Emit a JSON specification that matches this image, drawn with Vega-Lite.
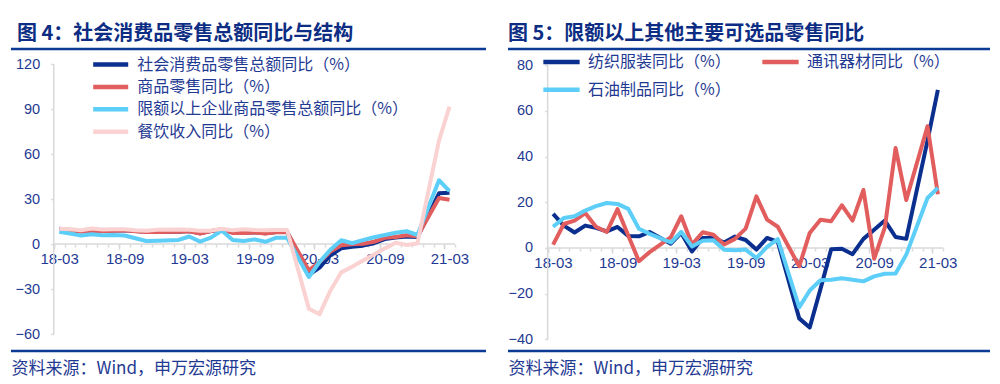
{
"$schema": "https://vega.github.io/schema/vega-lite/v6.json",
"background": "white",
"padding": {"left": 9, "top": 23, "right": 0, "bottom": 6},
"spacing": 18,
"config": {"view": {"stroke": null}, "font": "Noto Sans CJK SC"},
"resolve": {"scale": {"color": "independent", "x": "independent", "y": "independent"}, "legend": {"color": "independent"}},
"datasets": {
"retail": [
{"m":"2018-03","s":"社会消费品零售总额同比（%）","v":10.1},{"m":"2018-04","s":"社会消费品零售总额同比（%）","v":9.4},{"m":"2018-05","s":"社会消费品零售总额同比（%）","v":8.5},{"m":"2018-06","s":"社会消费品零售总额同比（%）","v":9.0},{"m":"2018-07","s":"社会消费品零售总额同比（%）","v":8.8},{"m":"2018-08","s":"社会消费品零售总额同比（%）","v":9.0},{"m":"2018-09","s":"社会消费品零售总额同比（%）","v":9.2},{"m":"2018-10","s":"社会消费品零售总额同比（%）","v":8.6},{"m":"2018-11","s":"社会消费品零售总额同比（%）","v":8.1},{"m":"2018-12","s":"社会消费品零售总额同比（%）","v":8.2},
{"m":"2019-02","s":"社会消费品零售总额同比（%）","v":8.2},{"m":"2019-03","s":"社会消费品零售总额同比（%）","v":8.7},{"m":"2019-04","s":"社会消费品零售总额同比（%）","v":7.2},{"m":"2019-05","s":"社会消费品零售总额同比（%）","v":8.6},{"m":"2019-06","s":"社会消费品零售总额同比（%）","v":9.8},{"m":"2019-07","s":"社会消费品零售总额同比（%）","v":7.6},{"m":"2019-08","s":"社会消费品零售总额同比（%）","v":7.5},{"m":"2019-09","s":"社会消费品零售总额同比（%）","v":7.8},{"m":"2019-10","s":"社会消费品零售总额同比（%）","v":7.2},{"m":"2019-11","s":"社会消费品零售总额同比（%）","v":8.0},{"m":"2019-12","s":"社会消费品零售总额同比（%）","v":8.0},
{"m":"2020-02","s":"社会消费品零售总额同比（%）","v":-20.5},{"m":"2020-03","s":"社会消费品零售总额同比（%）","v":-15.8},{"m":"2020-04","s":"社会消费品零售总额同比（%）","v":-7.5},{"m":"2020-05","s":"社会消费品零售总额同比（%）","v":-2.8},{"m":"2020-06","s":"社会消费品零售总额同比（%）","v":-1.8},{"m":"2020-07","s":"社会消费品零售总额同比（%）","v":-1.1},{"m":"2020-08","s":"社会消费品零售总额同比（%）","v":0.5},{"m":"2020-09","s":"社会消费品零售总额同比（%）","v":3.3},{"m":"2020-10","s":"社会消费品零售总额同比（%）","v":4.3},{"m":"2020-11","s":"社会消费品零售总额同比（%）","v":5.0},{"m":"2020-12","s":"社会消费品零售总额同比（%）","v":4.6},
{"m":"2021-02","s":"社会消费品零售总额同比（%）","v":33.8},{"m":"2021-03","s":"社会消费品零售总额同比（%）","v":34.2},
{"m":"2018-03","s":"商品零售同比（%）","v":10.0},{"m":"2018-04","s":"商品零售同比（%）","v":9.3},{"m":"2018-05","s":"商品零售同比（%）","v":8.4},{"m":"2018-06","s":"商品零售同比（%）","v":8.8},{"m":"2018-07","s":"商品零售同比（%）","v":8.7},{"m":"2018-08","s":"商品零售同比（%）","v":8.9},{"m":"2018-09","s":"商品零售同比（%）","v":9.1},{"m":"2018-10","s":"商品零售同比（%）","v":8.5},{"m":"2018-11","s":"商品零售同比（%）","v":8.0},{"m":"2018-12","s":"商品零售同比（%）","v":8.0},
{"m":"2019-02","s":"商品零售同比（%）","v":8.1},{"m":"2019-03","s":"商品零售同比（%）","v":8.5},{"m":"2019-04","s":"商品零售同比（%）","v":7.0},{"m":"2019-05","s":"商品零售同比（%）","v":8.7},{"m":"2019-06","s":"商品零售同比（%）","v":9.8},{"m":"2019-07","s":"商品零售同比（%）","v":7.4},{"m":"2019-08","s":"商品零售同比（%）","v":7.3},{"m":"2019-09","s":"商品零售同比（%）","v":7.7},{"m":"2019-10","s":"商品零售同比（%）","v":7.0},{"m":"2019-11","s":"商品零售同比（%）","v":7.8},{"m":"2019-12","s":"商品零售同比（%）","v":7.9},
{"m":"2020-02","s":"商品零售同比（%）","v":-17.6},{"m":"2020-03","s":"商品零售同比（%）","v":-12.0},{"m":"2020-04","s":"商品零售同比（%）","v":-5.1},{"m":"2020-05","s":"商品零售同比（%）","v":-0.8},{"m":"2020-06","s":"商品零售同比（%）","v":-0.2},{"m":"2020-07","s":"商品零售同比（%）","v":0.2},{"m":"2020-08","s":"商品零售同比（%）","v":1.5},{"m":"2020-09","s":"商品零售同比（%）","v":4.1},{"m":"2020-10","s":"商品零售同比（%）","v":4.7},{"m":"2020-11","s":"商品零售同比（%）","v":5.8},{"m":"2020-12","s":"商品零售同比（%）","v":5.2},
{"m":"2021-02","s":"商品零售同比（%）","v":30.7},{"m":"2021-03","s":"商品零售同比（%）","v":29.5},
{"m":"2018-03","s":"限额以上企业商品零售总额同比（%）","v":8.2},{"m":"2018-04","s":"限额以上企业商品零售总额同比（%）","v":7.0},{"m":"2018-05","s":"限额以上企业商品零售总额同比（%）","v":5.6},{"m":"2018-06","s":"限额以上企业商品零售总额同比（%）","v":6.5},{"m":"2018-07","s":"限额以上企业商品零售总额同比（%）","v":5.8},{"m":"2018-08","s":"限额以上企业商品零售总额同比（%）","v":6.0},{"m":"2018-09","s":"限额以上企业商品零售总额同比（%）","v":5.7},{"m":"2018-10","s":"限额以上企业商品零售总额同比（%）","v":3.8},{"m":"2018-11","s":"限额以上企业商品零售总额同比（%）","v":2.0},{"m":"2018-12","s":"限额以上企业商品零售总额同比（%）","v":2.2},
{"m":"2019-02","s":"限额以上企业商品零售总额同比（%）","v":2.7},{"m":"2019-03","s":"限额以上企业商品零售总额同比（%）","v":5.0},{"m":"2019-04","s":"限额以上企业商品零售总额同比（%）","v":1.6},{"m":"2019-05","s":"限额以上企业商品零售总额同比（%）","v":4.2},{"m":"2019-06","s":"限额以上企业商品零售总额同比（%）","v":9.0},{"m":"2019-07","s":"限额以上企业商品零售总额同比（%）","v":2.7},{"m":"2019-08","s":"限额以上企业商品零售总额同比（%）","v":2.0},{"m":"2019-09","s":"限额以上企业商品零售总额同比（%）","v":3.1},{"m":"2019-10","s":"限额以上企业商品零售总额同比（%）","v":1.5},{"m":"2019-11","s":"限额以上企业商品零售总额同比（%）","v":4.2},{"m":"2019-12","s":"限额以上企业商品零售总额同比（%）","v":4.2},
{"m":"2020-02","s":"限额以上企业商品零售总额同比（%）","v":-22.0},{"m":"2020-03","s":"限额以上企业商品零售总额同比（%）","v":-12.0},{"m":"2020-04","s":"限额以上企业商品零售总额同比（%）","v":-3.8},{"m":"2020-05","s":"限额以上企业商品零售总额同比（%）","v":2.5},{"m":"2020-06","s":"限额以上企业商品零售总额同比（%）","v":0.5},{"m":"2020-07","s":"限额以上企业商品零售总额同比（%）","v":2.6},{"m":"2020-08","s":"限额以上企业商品零售总额同比（%）","v":4.5},{"m":"2020-09","s":"限额以上企业商品零售总额同比（%）","v":6.0},{"m":"2020-10","s":"限额以上企业商品零售总额同比（%）","v":7.5},{"m":"2020-11","s":"限额以上企业商品零售总额同比（%）","v":8.5},{"m":"2020-12","s":"限额以上企业商品零售总额同比（%）","v":6.0},
{"m":"2021-02","s":"限额以上企业商品零售总额同比（%）","v":42.5},{"m":"2021-03","s":"限额以上企业商品零售总额同比（%）","v":35.2},
{"m":"2018-03","s":"餐饮收入同比（%）","v":10.1},{"m":"2018-04","s":"餐饮收入同比（%）","v":9.9},{"m":"2018-05","s":"餐饮收入同比（%）","v":9.2},{"m":"2018-06","s":"餐饮收入同比（%）","v":10.3},{"m":"2018-07","s":"餐饮收入同比（%）","v":9.6},{"m":"2018-08","s":"餐饮收入同比（%）","v":9.9},{"m":"2018-09","s":"餐饮收入同比（%）","v":9.8},{"m":"2018-10","s":"餐饮收入同比（%）","v":9.2},{"m":"2018-11","s":"餐饮收入同比（%）","v":8.9},{"m":"2018-12","s":"餐饮收入同比（%）","v":9.5},
{"m":"2019-02","s":"餐饮收入同比（%）","v":9.7},{"m":"2019-03","s":"餐饮收入同比（%）","v":9.5},{"m":"2019-04","s":"餐饮收入同比（%）","v":8.9},{"m":"2019-05","s":"餐饮收入同比（%）","v":8.9},{"m":"2019-06","s":"餐饮收入同比（%）","v":10.2},{"m":"2019-07","s":"餐饮收入同比（%）","v":9.1},{"m":"2019-08","s":"餐饮收入同比（%）","v":9.8},{"m":"2019-09","s":"餐饮收入同比（%）","v":9.3},{"m":"2019-10","s":"餐饮收入同比（%）","v":9.1},{"m":"2019-11","s":"餐饮收入同比（%）","v":9.4},{"m":"2019-12","s":"餐饮收入同比（%）","v":9.3},
{"m":"2020-02","s":"餐饮收入同比（%）","v":-43.1},{"m":"2020-03","s":"餐饮收入同比（%）","v":-46.8},{"m":"2020-04","s":"餐饮收入同比（%）","v":-31.1},{"m":"2020-05","s":"餐饮收入同比（%）","v":-18.9},{"m":"2020-06","s":"餐饮收入同比（%）","v":-15.2},{"m":"2020-07","s":"餐饮收入同比（%）","v":-11.0},{"m":"2020-08","s":"餐饮收入同比（%）","v":-7.0},{"m":"2020-09","s":"餐饮收入同比（%）","v":-2.9},{"m":"2020-10","s":"餐饮收入同比（%）","v":0.8},{"m":"2020-11","s":"餐饮收入同比（%）","v":-0.6},{"m":"2020-12","s":"餐饮收入同比（%）","v":0.4},
{"m":"2021-02","s":"餐饮收入同比（%）","v":68.9},{"m":"2021-03","s":"餐饮收入同比（%）","v":91.6}
],
"optional": [
{"m":"2018-03","s":"纺织服装同比（%）","v":14.9},{"m":"2018-04","s":"纺织服装同比（%）","v":9.8},{"m":"2018-05","s":"纺织服装同比（%）","v":6.8},{"m":"2018-06","s":"纺织服装同比（%）","v":9.8},{"m":"2018-07","s":"纺织服装同比（%）","v":8.8},{"m":"2018-08","s":"纺织服装同比（%）","v":7.3},{"m":"2018-09","s":"纺织服装同比（%）","v":9.2},{"m":"2018-10","s":"纺织服装同比（%）","v":5.3},{"m":"2018-11","s":"纺织服装同比（%）","v":5.1},{"m":"2018-12","s":"纺织服装同比（%）","v":7.0},
{"m":"2019-02","s":"纺织服装同比（%）","v":1.9},{"m":"2019-03","s":"纺织服装同比（%）","v":6.6},{"m":"2019-04","s":"纺织服装同比（%）","v":-1.5},{"m":"2019-05","s":"纺织服装同比（%）","v":4.4},{"m":"2019-06","s":"纺织服装同比（%）","v":4.4},{"m":"2019-07","s":"纺织服装同比（%）","v":2.4},{"m":"2019-08","s":"纺织服装同比（%）","v":5.0},{"m":"2019-09","s":"纺织服装同比（%）","v":3.5},{"m":"2019-10","s":"纺织服装同比（%）","v":-0.7},{"m":"2019-11","s":"纺织服装同比（%）","v":4.4},{"m":"2019-12","s":"纺织服装同比（%）","v":2.7},
{"m":"2020-02","s":"纺织服装同比（%）","v":-30.8},{"m":"2020-03","s":"纺织服装同比（%）","v":-34.8},{"m":"2020-04","s":"纺织服装同比（%）","v":-18.0},{"m":"2020-05","s":"纺织服装同比（%）","v":-0.6},{"m":"2020-06","s":"纺织服装同比（%）","v":-0.3},{"m":"2020-07","s":"纺织服装同比（%）","v":-2.7},{"m":"2020-08","s":"纺织服装同比（%）","v":4.0},{"m":"2020-09","s":"纺织服装同比（%）","v":8.0},{"m":"2020-10","s":"纺织服装同比（%）","v":12.0},{"m":"2020-11","s":"纺织服装同比（%）","v":4.8},{"m":"2020-12","s":"纺织服装同比（%）","v":4.0},
{"m":"2021-02","s":"纺织服装同比（%）","v":47.0},{"m":"2021-03","s":"纺织服装同比（%）","v":69.2},
{"m":"2018-03","s":"通讯器材同比（%）","v":1.5},{"m":"2018-04","s":"通讯器材同比（%）","v":10.5},{"m":"2018-05","s":"通讯器材同比（%）","v":12.0},{"m":"2018-06","s":"通讯器材同比（%）","v":15.3},{"m":"2018-07","s":"通讯器材同比（%）","v":9.3},{"m":"2018-08","s":"通讯器材同比（%）","v":7.0},{"m":"2018-09","s":"通讯器材同比（%）","v":17.0},{"m":"2018-10","s":"通讯器材同比（%）","v":5.5},{"m":"2018-11","s":"通讯器材同比（%）","v":-5.8},{"m":"2018-12","s":"通讯器材同比（%）","v":-1.8},
{"m":"2019-02","s":"通讯器材同比（%）","v":4.8},{"m":"2019-03","s":"通讯器材同比（%）","v":13.9},{"m":"2019-04","s":"通讯器材同比（%）","v":1.5},{"m":"2019-05","s":"通讯器材同比（%）","v":6.9},{"m":"2019-06","s":"通讯器材同比（%）","v":5.8},{"m":"2019-07","s":"通讯器材同比（%）","v":1.5},{"m":"2019-08","s":"通讯器材同比（%）","v":4.0},{"m":"2019-09","s":"通讯器材同比（%）","v":8.5},{"m":"2019-10","s":"通讯器材同比（%）","v":22.6},{"m":"2019-11","s":"通讯器材同比（%）","v":12.4},{"m":"2019-12","s":"通讯器材同比（%）","v":9.3},
{"m":"2020-02","s":"通讯器材同比（%）","v":-8.0},{"m":"2020-03","s":"通讯器材同比（%）","v":6.6},{"m":"2020-04","s":"通讯器材同比（%）","v":12.4},{"m":"2020-05","s":"通讯器材同比（%）","v":11.7},{"m":"2020-06","s":"通讯器材同比（%）","v":18.7},{"m":"2020-07","s":"通讯器材同比（%）","v":12.0},{"m":"2020-08","s":"通讯器材同比（%）","v":25.4},{"m":"2020-09","s":"通讯器材同比（%）","v":-4.7},{"m":"2020-10","s":"通讯器材同比（%）","v":9.0},{"m":"2020-11","s":"通讯器材同比（%）","v":43.8},{"m":"2020-12","s":"通讯器材同比（%）","v":21.0},
{"m":"2021-02","s":"通讯器材同比（%）","v":53.3},{"m":"2021-03","s":"通讯器材同比（%）","v":23.5},
{"m":"2018-03","s":"石油制品同比（%）","v":9.3},{"m":"2018-04","s":"石油制品同比（%）","v":13.1},{"m":"2018-05","s":"石油制品同比（%）","v":13.9},{"m":"2018-06","s":"石油制品同比（%）","v":16.4},{"m":"2018-07","s":"石油制品同比（%）","v":18.3},{"m":"2018-08","s":"石油制品同比（%）","v":19.7},{"m":"2018-09","s":"石油制品同比（%）","v":19.3},{"m":"2018-10","s":"石油制品同比（%）","v":17.1},{"m":"2018-11","s":"石油制品同比（%）","v":8.4},{"m":"2018-12","s":"石油制品同比（%）","v":6.2},
{"m":"2019-02","s":"石油制品同比（%）","v":2.4},{"m":"2019-03","s":"石油制品同比（%）","v":7.1},{"m":"2019-04","s":"石油制品同比（%）","v":0.7},{"m":"2019-05","s":"石油制品同比（%）","v":3.2},{"m":"2019-06","s":"石油制品同比（%）","v":3.4},{"m":"2019-07","s":"石油制品同比（%）","v":-0.8},{"m":"2019-08","s":"石油制品同比（%）","v":-1.0},{"m":"2019-09","s":"石油制品同比（%）","v":-0.7},{"m":"2019-10","s":"石油制品同比（%）","v":-4.4},{"m":"2019-11","s":"石油制品同比（%）","v":0.5},{"m":"2019-12","s":"石油制品同比（%）","v":3.9},
{"m":"2020-02","s":"石油制品同比（%）","v":-26.0},{"m":"2020-03","s":"石油制品同比（%）","v":-18.6},{"m":"2020-04","s":"石油制品同比（%）","v":-14.1},{"m":"2020-05","s":"石油制品同比（%）","v":-13.9},{"m":"2020-06","s":"石油制品同比（%）","v":-13.2},{"m":"2020-07","s":"石油制品同比（%）","v":-13.9},{"m":"2020-08","s":"石油制品同比（%）","v":-14.6},{"m":"2020-09","s":"石油制品同比（%）","v":-12.4},{"m":"2020-10","s":"石油制品同比（%）","v":-11.3},{"m":"2020-11","s":"石油制品同比（%）","v":-11.2},{"m":"2020-12","s":"石油制品同比（%）","v":-2.9},
{"m":"2021-02","s":"石油制品同比（%）","v":21.9},{"m":"2021-03","s":"石油制品同比（%）","v":26.3}
]
},
"hconcat": [
{
"width": 475, "height": 302,
"title": {"text": "图 4：社会消费品零售总额同比与结构", "anchor": "start", "frame": "group", "dx": 6, "offset": 4, "fontSize": 20, "fontWeight": "bold", "color": "#0c2d83", "font": "Noto Sans CJK SC"},
"resolve": {"axis": {"x": "independent"}},
"layer": [
{"data": {"values": [{}]}, "mark": {"type": "rule", "color": "#0a3a94", "strokeWidth": 2.5},
 "encoding": {"x": {"datum": {"year": 2017, "month": 11, "date": 1, "utc": true}, "type": "temporal", "axis": null}, "x2": {"datum": {"year": 2021, "month": 6, "date": 27, "utc": true}}, "y": {"datum": 130, "type": "quantitative"}}},
{"data": {"values": [{}]}, "mark": {"type": "rule", "color": "#0a3a94", "strokeWidth": 2.5},
 "encoding": {"x": {"datum": {"year": 2017, "month": 11, "date": 1, "utc": true}, "type": "temporal", "axis": null}, "x2": {"datum": {"year": 2021, "month": 6, "date": 27, "utc": true}}, "y": {"datum": -71.33, "type": "quantitative"}}},
{"data": {"values": [{}]}, "mark": {"type": "rule", "color": "#d9d9d9", "strokeWidth": 1.5},
 "encoding": {"x": {"datum": {"year": 2018, "month": 3, "date": 1, "utc": true}, "type": "temporal",
   "axis": {"orient": "bottom", "offset": -107, "domain": false, "grid": false, "labels": false, "title": null,
    "ticks": true, "tickSize": 3, "tickColor": "#d9d9d9", "tickWidth": 1.5,
    "values": [{"year":2018,"month":3,"date":1,"utc":true},{"year":2018,"month":4,"date":1,"utc":true},{"year":2018,"month":5,"date":1,"utc":true},{"year":2018,"month":6,"date":1,"utc":true},{"year":2018,"month":7,"date":1,"utc":true},{"year":2018,"month":8,"date":1,"utc":true},{"year":2018,"month":9,"date":1,"utc":true},{"year":2018,"month":10,"date":1,"utc":true},{"year":2018,"month":11,"date":1,"utc":true},{"year":2018,"month":12,"date":1,"utc":true},
     {"year":2019,"month":1,"date":1,"utc":true},{"year":2019,"month":2,"date":1,"utc":true},{"year":2019,"month":3,"date":1,"utc":true},{"year":2019,"month":4,"date":1,"utc":true},{"year":2019,"month":5,"date":1,"utc":true},{"year":2019,"month":6,"date":1,"utc":true},{"year":2019,"month":7,"date":1,"utc":true},{"year":2019,"month":8,"date":1,"utc":true},{"year":2019,"month":9,"date":1,"utc":true},{"year":2019,"month":10,"date":1,"utc":true},{"year":2019,"month":11,"date":1,"utc":true},{"year":2019,"month":12,"date":1,"utc":true},
     {"year":2020,"month":1,"date":1,"utc":true},{"year":2020,"month":2,"date":1,"utc":true},{"year":2020,"month":3,"date":1,"utc":true},{"year":2020,"month":4,"date":1,"utc":true},{"year":2020,"month":5,"date":1,"utc":true},{"year":2020,"month":6,"date":1,"utc":true},{"year":2020,"month":7,"date":1,"utc":true},{"year":2020,"month":8,"date":1,"utc":true},{"year":2020,"month":9,"date":1,"utc":true},{"year":2020,"month":10,"date":1,"utc":true},{"year":2020,"month":11,"date":1,"utc":true},{"year":2020,"month":12,"date":1,"utc":true},
     {"year":2021,"month":1,"date":1,"utc":true},{"year":2021,"month":2,"date":1,"utc":true},{"year":2021,"month":3,"date":1,"utc":true},{"year":2021,"month":4,"date":1,"utc":true}]}},
  "x2": {"datum": {"year": 2021, "month": 4, "date": 1, "utc": true}}, "y": {"datum": 0, "type": "quantitative"}}},
{"data": {"values": [{}]}, "mark": {"type": "rule", "color": "#d9d9d9", "strokeWidth": 1.5},
 "encoding": {"x": {"datum": {"year": 2018, "month": 3, "date": 1, "utc": true}, "type": "temporal", "axis": null}, "y": {"datum": -60, "type": "quantitative"}, "y2": {"datum": 120}}},
{"data": {"name": "retail"},
 "mark": {"type": "line", "strokeWidth": 4, "strokeJoin": "round"},
 "encoding": {
  "x": {"field": "m", "timeUnit": "utcyearmonth", "type": "temporal", "bandPosition": 0.5,
   "scale": {"type": "utc", "domain": [{"year": 2017, "month": 11, "date": 1, "utc": true}, {"year": 2021, "month": 6, "date": 27, "utc": true}], "nice": false},
   "axis": {"orient": "bottom", "offset": -107, "domain": false, "grid": false,
    "values": [{"year":2018,"month":3,"date":1,"utc":true},{"year":2018,"month":9,"date":1,"utc":true},{"year":2019,"month":3,"date":1,"utc":true},{"year":2019,"month":9,"date":1,"utc":true},{"year":2020,"month":3,"date":1,"utc":true},{"year":2020,"month":9,"date":1,"utc":true},{"year":2021,"month":3,"date":1,"utc":true}],
    "labelExpr": "utcFormat(datum.value, '%y-%m')",
    "labelOffset": 5.4, "labelPadding": 2, "labelFlush": false, "labelOverlap": false, "labelBound": false,
    "labelFont": "Liberation Sans", "labelFontSize": 15, "labelColor": "#1f3a93",
    "ticks": true, "tickSize": 5, "tickColor": "#d9d9d9", "tickWidth": 1.5,
    "title": "资料来源：Wind，申万宏源研究", "titleX": 0, "titleY": 129, "titleAnchor": "start", "titleAlign": "left", "titleBaseline": "alphabetic", "titleLimit": 400,
    "titleFont": "Noto Sans CJK SC", "titleFontSize": 17, "titleFontWeight": "normal", "titleColor": "#1f3a93"}},
  "y": {"field": "v", "type": "quantitative",
   "scale": {"domain": [-71.33, 130], "nice": false, "zero": false},
   "axis": {"orient": "left", "offset": -42.7, "values": [-60, -30, 0, 30, 60, 90, 120], "domain": false, "grid": false,
    "tickSize": 3, "tickColor": "#d9d9d9", "tickWidth": 1.5, "labelPadding": 11,
    "labelFont": "Liberation Sans", "labelFontSize": 14.5, "labelColor": "#1f3a93", "title": null}},
  "color": {"field": "s", "type": "nominal",
   "scale": {"domain": ["社会消费品零售总额同比（%）", "商品零售同比（%）", "限额以上企业商品零售总额同比（%）", "餐饮收入同比（%）"], "range": ["#0b2f8f", "#e25d5d", "#5ccef7", "#fad2d2"]},
   "legend": {"orient": "none", "legendX": 79.7, "legendY": 7.5, "direction": "vertical", "title": null, "padding": 0,
    "symbolType": "stroke", "symbolSize": 1225, "symbolStrokeWidth": 4.5, "clipHeight": 16,
    "labelFont": "Noto Sans CJK SC", "labelFontSize": 16, "labelColor": "#1f3a93", "labelLimit": 400, "labelOffset": 6.6, "rowPadding": 6.4}}
 }}
]
},
{
"width": 482, "height": 302,
"title": {"text": "图 5：限额以上其他主要可选品零售同比", "anchor": "start", "frame": "group", "dx": 0, "offset": 4, "fontSize": 20, "fontWeight": "bold", "color": "#0c2d83", "font": "Noto Sans CJK SC"},
"resolve": {"axis": {"x": "independent"}},
"layer": [
{"data": {"values": [{}]}, "mark": {"type": "rule", "color": "#0a3a94", "strokeWidth": 2.5},
 "encoding": {"x": {"datum": {"year": 2017, "month": 11, "date": 8, "utc": true}, "type": "temporal", "axis": null}, "x2": {"datum": {"year": 2021, "month": 8, "date": 12, "utc": true}}, "y": {"datum": 87.09, "type": "quantitative"}}},
{"data": {"values": [{}]}, "mark": {"type": "rule", "color": "#0a3a94", "strokeWidth": 2.5},
 "encoding": {"x": {"datum": {"year": 2017, "month": 11, "date": 8, "utc": true}, "type": "temporal", "axis": null}, "x2": {"datum": {"year": 2021, "month": 8, "date": 12, "utc": true}}, "y": {"datum": -45.08, "type": "quantitative"}}},
{"data": {"values": [{}]}, "mark": {"type": "rule", "color": "#d9d9d9", "strokeWidth": 1.5},
 "encoding": {"x": {"datum": {"year": 2018, "month": 3, "date": 1, "utc": true}, "type": "temporal",
   "axis": {"orient": "bottom", "offset": -103, "domain": false, "grid": false, "labels": false, "title": null,
    "ticks": true, "tickSize": 3, "tickColor": "#d9d9d9", "tickWidth": 1.5,
    "values": [{"year":2018,"month":3,"date":1,"utc":true},{"year":2018,"month":4,"date":1,"utc":true},{"year":2018,"month":5,"date":1,"utc":true},{"year":2018,"month":6,"date":1,"utc":true},{"year":2018,"month":7,"date":1,"utc":true},{"year":2018,"month":8,"date":1,"utc":true},{"year":2018,"month":9,"date":1,"utc":true},{"year":2018,"month":10,"date":1,"utc":true},{"year":2018,"month":11,"date":1,"utc":true},{"year":2018,"month":12,"date":1,"utc":true},
     {"year":2019,"month":1,"date":1,"utc":true},{"year":2019,"month":2,"date":1,"utc":true},{"year":2019,"month":3,"date":1,"utc":true},{"year":2019,"month":4,"date":1,"utc":true},{"year":2019,"month":5,"date":1,"utc":true},{"year":2019,"month":6,"date":1,"utc":true},{"year":2019,"month":7,"date":1,"utc":true},{"year":2019,"month":8,"date":1,"utc":true},{"year":2019,"month":9,"date":1,"utc":true},{"year":2019,"month":10,"date":1,"utc":true},{"year":2019,"month":11,"date":1,"utc":true},{"year":2019,"month":12,"date":1,"utc":true},
     {"year":2020,"month":1,"date":1,"utc":true},{"year":2020,"month":2,"date":1,"utc":true},{"year":2020,"month":3,"date":1,"utc":true},{"year":2020,"month":4,"date":1,"utc":true},{"year":2020,"month":5,"date":1,"utc":true},{"year":2020,"month":6,"date":1,"utc":true},{"year":2020,"month":7,"date":1,"utc":true},{"year":2020,"month":8,"date":1,"utc":true},{"year":2020,"month":9,"date":1,"utc":true},{"year":2020,"month":10,"date":1,"utc":true},{"year":2020,"month":11,"date":1,"utc":true},{"year":2020,"month":12,"date":1,"utc":true},
     {"year":2021,"month":1,"date":1,"utc":true},{"year":2021,"month":2,"date":1,"utc":true},{"year":2021,"month":3,"date":1,"utc":true},{"year":2021,"month":4,"date":1,"utc":true}]}},
  "x2": {"datum": {"year": 2021, "month": 4, "date": 1, "utc": true}}, "y": {"datum": 0, "type": "quantitative"}}},
{"data": {"values": [{}]}, "mark": {"type": "rule", "color": "#d9d9d9", "strokeWidth": 1.5},
 "encoding": {"x": {"datum": {"year": 2018, "month": 3, "date": 1, "utc": true}, "type": "temporal", "axis": null}, "y": {"datum": -40, "type": "quantitative"}, "y2": {"datum": 80}}},
{"data": {"name": "optional"},
 "mark": {"type": "line", "strokeWidth": 4, "strokeJoin": "round"},
 "encoding": {
  "x": {"field": "m", "timeUnit": "utcyearmonth", "type": "temporal", "bandPosition": 0.5,
   "scale": {"type": "utc", "domain": [{"year": 2017, "month": 11, "date": 8, "utc": true}, {"year": 2021, "month": 8, "date": 12, "utc": true}], "nice": false},
   "axis": {"orient": "bottom", "offset": -103, "domain": false, "grid": false,
    "values": [{"year":2018,"month":3,"date":1,"utc":true},{"year":2018,"month":9,"date":1,"utc":true},{"year":2019,"month":3,"date":1,"utc":true},{"year":2019,"month":9,"date":1,"utc":true},{"year":2020,"month":3,"date":1,"utc":true},{"year":2020,"month":9,"date":1,"utc":true},{"year":2021,"month":3,"date":1,"utc":true}],
    "labelExpr": "utcFormat(datum.value, '%y-%m')",
    "labelOffset": 5.35, "labelPadding": 2, "labelFlush": false, "labelOverlap": false, "labelBound": false,
    "labelFont": "Liberation Sans", "labelFontSize": 15, "labelColor": "#1f3a93",
    "ticks": true, "tickSize": 5, "tickColor": "#d9d9d9", "tickWidth": 1.5,
    "title": "资料来源：Wind，申万宏源研究", "titleX": 0, "titleY": 125, "titleAnchor": "start", "titleAlign": "left", "titleBaseline": "alphabetic", "titleLimit": 400,
    "titleFont": "Noto Sans CJK SC", "titleFontSize": 17, "titleFontWeight": "normal", "titleColor": "#1f3a93"}},
  "y": {"field": "v", "type": "quantitative",
   "scale": {"domain": [-45.08, 87.09], "nice": false, "zero": false},
   "axis": {"orient": "left", "offset": -39.7, "values": [-40, -20, 0, 20, 40, 60, 80], "domain": false, "grid": false,
    "tickSize": 3, "tickColor": "#d9d9d9", "tickWidth": 1.5, "labelPadding": 12,
    "labelFont": "Liberation Sans", "labelFontSize": 14.5, "labelColor": "#1f3a93", "title": null}},
  "color": {"field": "s", "type": "nominal",
   "scale": {"domain": ["纺织服装同比（%）", "通讯器材同比（%）", "石油制品同比（%）"], "range": ["#0b2f8f", "#e25d5d", "#5ccef7"]},
   "legend": {"orient": "none", "legendX": 33, "legendY": 5, "direction": "horizontal", "columns": 2, "title": null, "padding": 0,
    "symbolType": "stroke", "symbolSize": 1318, "symbolStrokeWidth": 4.5, "clipHeight": 16,
    "labelFont": "Noto Sans CJK SC", "labelFontSize": 16, "labelColor": "#1f3a93", "labelLimit": 400, "labelOffset": 6, "rowPadding": 11.7, "columnPadding": 29}}
 }}
]
}
]
}
